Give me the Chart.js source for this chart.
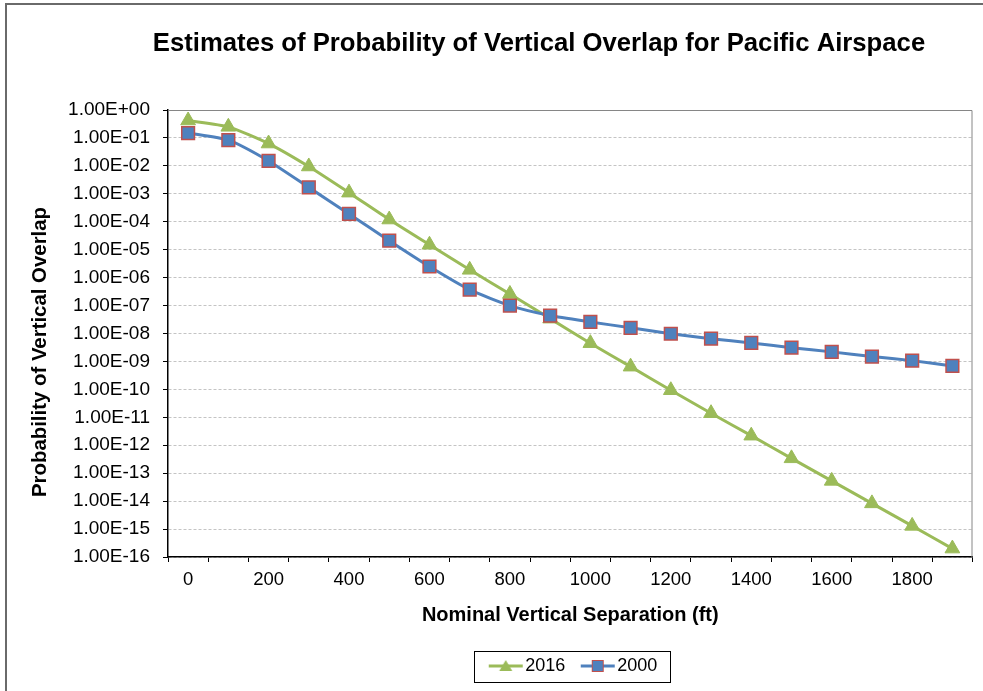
<!DOCTYPE html>
<html>
<head>
<meta charset="utf-8">
<title>Probability of Vertical Overlap</title>
<script src="https://cdn.jsdelivr.net/npm/chart.js@4.4.1/dist/chart.umd.min.js"></script>
<style>
  html, body { margin: 0; padding: 0; background: #fff; overflow: hidden; }
  #wrap { position: relative; width: 983px; height: 691px; }
</style>
</head>
<body>
<div id="wrap"><canvas id="chart"></canvas></div>
<script>
// nominal vertical separation (ft)
const separations = [0, 100, 200, 300, 400, 500, 600, 700, 800, 900,
  1000, 1100, 1200, 1300, 1400, 1500, 1600, 1700, 1800, 1900];

// probability of vertical overlap
const overlap2016 = [4.2e-1, 2.5e-1, 6.3e-2, 9.5e-3, 1.1e-3, 1.2e-4, 1.5e-5, 1.9e-6, 2.6e-7, 3.4e-8,
  4.5e-9, 6.5e-10, 9.3e-11, 1.4e-11, 2.2e-12, 3.4e-13, 5.3e-14, 8.3e-15, 1.3e-15, 2.0e-16];
const overlap2000 = [1.5e-1, 8.3e-2, 1.5e-2, 1.7e-3, 1.9e-4, 2.1e-5, 2.5e-6, 3.7e-7, 1.0e-7, 4.4e-8,
  2.6e-8, 1.6e-8, 9.8e-9, 6.5e-9, 4.6e-9, 3.1e-9, 2.2e-9, 1.5e-9, 1.07e-9, 6.9e-10];

// log axis ticks: 1E+00 down to 1E-16
const yTicks = [1e0, 1e-1, 1e-2, 1e-3, 1e-4, 1e-5, 1e-6, 1e-7, 1e-8,
  1e-9, 1e-10, 1e-11, 1e-12, 1e-13, 1e-14, 1e-15, 1e-16];

const chartTitle = 'Estimates of Probability of Vertical Overlap for Pacific Airspace';
const yTitle = 'Probability of Vertical Overlap';
const xTitle = 'Nominal Vertical Separation (ft)';

const GREEN = '#9BBB59';
const BLUE = '#4F81BD';
const RED = '#C0504D';
const FONT = '"Liberation Sans", Arial, sans-serif';

function sci(v) {
  const e = Math.round(Math.log10(v));
  const m = v / Math.pow(10, e);
  return m.toFixed(2) + 'E' + (e < 0 ? '-' : '+') + String(Math.abs(e)).padStart(2, '0');
}

// line+marker pictures for the legend (line sits right of centre so it hugs the text)
function legendIcon(lineColor, shape) {
  const c = document.createElement('canvas');
  c.width = 48; c.height = 16;
  const g = c.getContext('2d');
  g.strokeStyle = lineColor; g.lineWidth = 3;
  g.beginPath(); g.moveTo(13, 8); g.lineTo(47, 8); g.stroke();
  if (shape === 'triangle') {
    g.fillStyle = GREEN;
    g.beginPath(); g.moveTo(30, 2); g.lineTo(36.5, 13); g.lineTo(23.5, 13); g.closePath(); g.fill();
  } else {
    g.fillStyle = BLUE; g.fillRect(24, 2, 12, 12);
    g.strokeStyle = RED; g.lineWidth = 1; g.strokeRect(24.5, 2.5, 11, 11);
  }
  return c;
}
const legendIcons = [legendIcon(GREEN, 'triangle'), legendIcon(BLUE, 'rect')];

const decorations = {
  id: 'decorations',
  beforeDraw(chart) {
    const ctx = chart.ctx;
    ctx.save();
    ctx.fillStyle = '#fff';
    ctx.fillRect(0, 0, chart.width, chart.height);
    ctx.restore();
  },
  beforeDatasetsDraw(chart) {
    const { ctx, chartArea: a } = chart;
    ctx.save();
    ctx.strokeStyle = '#868686';
    ctx.lineWidth = 1;
    ctx.beginPath();
    ctx.moveTo(a.left, a.top + 0.5); ctx.lineTo(a.right - 0.5, a.top + 0.5); ctx.lineTo(a.right - 0.5, a.bottom);
    ctx.stroke();
    ctx.restore();
  },
  afterDraw(chart) {
    const ctx = chart.ctx;
    ctx.save();
    // outer frame (cropped at right/bottom)
    ctx.strokeStyle = '#6a6a6a';
    ctx.lineWidth = 2;
    ctx.strokeRect(6, 4, chart.width + 20, chart.height + 20);
    // chart title
    ctx.fillStyle = '#000';
    ctx.textAlign = 'center';
    ctx.textBaseline = 'middle';
    ctx.font = 'bold 25.7px ' + FONT;
    ctx.fillText(chartTitle, 539, 44);
    // y axis title
    ctx.save();
    ctx.translate(40, 352);
    ctx.rotate(-Math.PI / 2);
    ctx.font = 'bold 20.4px ' + FONT;
    ctx.fillText(yTitle, 0, 0);
    ctx.restore();
    // legend frame
    const hb = chart.legend.legendHitBoxes;
    if (hb && hb.length) {
      const left = Math.min(...hb.map(h => h.left)) - 9;
      const right = Math.max(...hb.map(h => h.left + h.width)) + 13;
      const cy = hb[0].top + hb[0].height / 2;
      ctx.strokeStyle = '#000';
      ctx.lineWidth = 1;
      ctx.strokeRect(Math.round(left) + 0.5, Math.round(cy - 15.5) + 0.5, Math.round(right - left), 31);
    }
    ctx.restore();
  }
};

new Chart(document.getElementById('chart'), {
  type: 'line',
  data: {
    labels: separations,
    datasets: [
      {
        label: '2016',
        data: overlap2016,
        borderColor: GREEN,
        backgroundColor: GREEN,
        borderWidth: 3,
        pointStyle: 'triangle',
        pointRadius: 8.5,
        pointBorderWidth: 1,
        pointBackgroundColor: GREEN,
        pointBorderColor: GREEN,
        tension: 0.2,
        order: 1
      },
      {
        label: '2000',
        data: overlap2000,
        borderColor: BLUE,
        backgroundColor: BLUE,
        borderWidth: 3,
        pointStyle: 'rect',
        pointRadius: 9,
        pointBorderWidth: 1.5,
        pointBackgroundColor: BLUE,
        pointBorderColor: RED,
        tension: 0.2,
        order: 0
      }
    ]
  },
  options: {
    responsive: true,
    maintainAspectRatio: false,
    animation: false,
    layout: { padding: { top: 110, right: 9, bottom: 6, left: 0 } },
    plugins: {
      title: { display: false },
      tooltip: { enabled: false },
      legend: {
        position: 'bottom',
        fullSize: false,
        labels: {
          usePointStyle: true,
          pointStyleWidth: 33,
          padding: 10,
          color: '#000',
          font: { family: FONT, size: 18 },
          sort: (a, b) => a.datasetIndex - b.datasetIndex,
          generateLabels(chart) {
            const items = Chart.defaults.plugins.legend.labels.generateLabels(chart);
            items.forEach(it => { it.pointStyle = legendIcons[it.datasetIndex]; });
            return items;
          }
        }
      }
    },
    scales: {
      x: {
        type: 'category',
        offset: true,
        grid: {
          offset: true,
          drawOnChartArea: false,
          tickLength: 5,
          tickColor: '#000'
        },
        border: { color: '#000', width: 1.5 },
        ticks: {
          autoSkip: false,
          maxRotation: 0,
          padding: 7,
          color: '#000',
          font: { family: FONT, size: 18.5 },
          callback: (v, i) => (i % 2 === 0 ? String(separations[i]) : '')
        },
        title: {
          display: true,
          text: xTitle,
          color: '#000',
          font: { family: FONT, size: 20, weight: 'bold' },
          padding: { top: 0, bottom: 20 }
        },
        afterFit: (scale) => { scale.height = 90; }
      },
      y: {
        type: 'logarithmic',
        min: 1e-16,
        max: 1,
        grid: {
          color: '#c4c4c4',
          lineWidth: 1,
          tickLength: 5,
          tickColor: '#000'
        },
        border: { color: '#000', width: 1.5, dash: [3, 2] },
        ticks: {
          padding: 13,
          color: '#000',
          font: { family: FONT, size: 19 },
          callback: (v) => sci(v)
        },
        afterBuildTicks: (scale) => { scale.ticks = yTicks.map(v => ({ value: v })); },
        afterFit: (scale) => { scale.width = 168; }
      }
    }
  },
  plugins: [decorations]
});
</script>
</body>
</html>
